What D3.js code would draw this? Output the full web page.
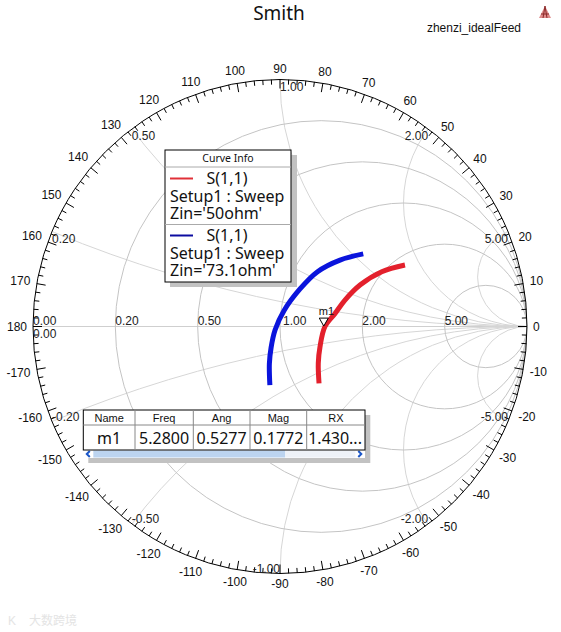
<!DOCTYPE html>
<html>
<head>
<meta charset="utf-8">
<script src="https://cdn.jsdelivr.net/npm/d3@7"></script>
<style>
  body { margin: 0; background: #fff; }
  text { font-family: "Liberation Sans", Arial, sans-serif; }
  .ui { font-family: "Noto Sans", "Open Sans", sans-serif; }
</style>
</head>
<body>
<div id="chart"></div>
<script>
// Данные графика
var resistanceCircles = [0.2, 0.5, 1, 2, 5];
var reactanceArcs = [0.2, 0.5, 1, 2, 5, -0.2, -0.5, -1, -2, -5];
var resistanceLabels = ["0.00", "0.20", "0.50", "1.00", "2.00", "5.00"];
var reactanceValues = [0, 0.2, 0.5, 1, 2, 5, -0.2, -0.5, -1, -2, -5];
var reactanceLabels = ["0.00", "0.20", "0.50", "1.00", "2.00", "5.00",
  "-0.20", "-0.50", "-1.00", "-2.00", "-5.00"];
var angleTicks = [0, 10, 20, 30, 40, 50, 60, 70, 80, 90, 100, 110, 120, 130, 140, 150, 160, 170, 180,
  -170, -160, -150, -140, -130, -120, -110, -100, -90, -80, -70, -60, -50, -40, -30, -20, -10];

// S(1,1) Zin='50ohm' (re, im of reflection coefficient)
var s11_50 = [[0.158, -0.230], [0.155, -0.148], [0.162, -0.082], [0.182, 0.0], [0.223, 0.053],
  [0.263, 0.107], [0.324, 0.168], [0.412, 0.222], [0.506, 0.249]];
// S(1,1) Zin='73.1ohm'
var s11_73 = [[-0.041, -0.237], [-0.043, -0.150], [-0.036, -0.085], [-0.020, -0.014], [0.016, 0.064],
  [0.081, 0.152], [0.152, 0.222], [0.243, 0.269], [0.337, 0.294]];

var seriesNames = ["S(1,1)", "S(1,1)"];
var seriesSetup = ["Setup1 : Sweep", "Setup1 : Sweep"];
var seriesZin = ["Zin='50ohm'", "Zin='73.1ohm'"];
var seriesColors = ["#e3202c", "#0a14dc"];
var legendColors = ["#e03038", "#0c0ca0"];

// Маркер
var tableHeaders = ["Name", "Freq", "Ang", "Mag", "RX"];
var markerName = "m1";
var markerFreq = 5.28;
var markerAng = 0.5277;
var markerMag = 0.1772;

var W = 561, H = 632;
var cx = 280, cy = 326.5, R = 247;

var x = d3.scaleLinear().domain([-1, 1]).range([cx - R, cx + R]);
var y = d3.scaleLinear().domain([-1, 1]).range([cy + R, cy - R]);

var svg = d3.select("#chart").append("svg").attr("width", W).attr("height", H);

svg.append("defs").append("clipPath").attr("id", "unit")
  .append("circle").attr("cx", x(0)).attr("cy", y(0)).attr("r", x(1) - x(0));

// Title
svg.append("text").attr("class", "ui").attr("x", 279).attr("y", 20)
  .attr("text-anchor", "middle").style("font-size", "19px").style("fill", "#111").text("Smith");
svg.append("text").attr("x", 521).attr("y", 32).attr("text-anchor", "end")
  .style("font-size", "12px").style("fill", "#111").text("zhenzi_idealFeed");

// HFSS icon
var icon = svg.append("g").attr("transform", "translate(545,12)");
icon.append("path").attr("d", "M0,-6 L6,6 L-6,6 Z").attr("fill", "#e08a8a");
icon.append("path").attr("d", "M0,-6 L-2,6 M0,-6 L2,6 M-4,2 L4,2").attr("stroke", "#8a2a2a").attr("stroke-width", 1).attr("fill", "none");

// Grid
var grid = svg.append("g").attr("clip-path", "url(#unit)");

grid.append("line").attr("x1", x(-1)).attr("x2", x(1)).attr("y1", y(0)).attr("y2", y(0))
  .style("stroke", "#cfcfcf");

grid.selectAll(".xarc").data(reactanceArcs).enter().append("circle")
  .attr("class", "xarc")
  .attr("cx", x(1))
  .attr("cy", function (d) { return y(1 / d); })
  .attr("r", function (d) { return x(1 / Math.abs(d)) - x(0); })
  .attr("fill", "none").style("stroke", "#d6d6d6");

grid.selectAll(".rcirc").data(resistanceCircles).enter().append("circle")
  .attr("class", "rcirc")
  .attr("cx", function (d) { return x(d / (d + 1)); })
  .attr("cy", y(0))
  .attr("r", function (d) { return x(1 / (d + 1)) - x(0); })
  .attr("fill", "none").style("stroke", "#c4c4c4");

// Outer circle and ticks
svg.append("circle").attr("cx", x(0)).attr("cy", y(0)).attr("r", R)
  .attr("fill", "none").style("stroke", "#000");

var fine = d3.range(-178, 181, 2);
svg.selectAll(".tick").data(fine).enter().append("line")
  .attr("class", "tick")
  .attr("x1", function (d) { return x(Math.cos(d * Math.PI / 180)); })
  .attr("y1", function (d) { return y(Math.sin(d * Math.PI / 180)); })
  .attr("x2", function (d) { var k = 1 - (d % 10 == 0 ? 9 : 5) / R; return x(k * Math.cos(d * Math.PI / 180)); })
  .attr("y2", function (d) { var k = 1 - (d % 10 == 0 ? 9 : 5) / R; return y(k * Math.sin(d * Math.PI / 180)); })
  .style("stroke", "#000");

// Angle labels outside the circle
svg.selectAll(".ang").data(angleTicks).enter().append("text")
  .attr("class", "ang")
  .style("font-size", "12px").style("fill", "#111")
  .attr("text-anchor", "middle").attr("dy", "0.35em")
  .text(function (d) { return d; })
  .each(function (d) {
    var w = this.getComputedTextLength();
    var a = d * Math.PI / 180;
    var rr = 1 + (6 + Math.abs(Math.cos(a)) * w / 2 + Math.abs(Math.sin(a)) * 4.5) / R;
    d3.select(this).attr("x", x(rr * Math.cos(a))).attr("y", y(rr * Math.sin(a)));
  });

// Resistance labels on the real axis
var rVals = [0].concat(resistanceCircles);
svg.selectAll(".rlab").data(rVals).enter().append("text")
  .attr("class", "rlab").style("font-size", "12px").style("fill", "#222")
  .attr("x", function (d) { return x((d - 1) / (d + 1)) + (d == 1 ? 3 : 0); })
  .attr("y", y(0) - 1.5)
  .text(function (d, i) { return resistanceLabels[i]; });

// Reactance labels at the rim
svg.selectAll(".xlab").data(reactanceValues).enter().append("text")
  .attr("class", "xlab").style("font-size", "12px").style("fill", "#222")
  .attr("x", function (d) { return x((d * d - 1) / (d * d + 1)); })
  .attr("y", function (d) { return y(2 * d / (d * d + 1)) + (d >= 0 ? 11 : -1); })
  .attr("text-anchor", function (d) {
    if (d >= 0) return d <= 1 ? "start" : "end";
    return d > -1 ? "start" : "end";
  })
  .text(function (d, i) { return reactanceLabels[i]; });

// Curves
var line = d3.line()
  .x(function (d) { return x(d[0]); })
  .y(function (d) { return y(d[1]); })
  .curve(d3.curveCatmullRom);

svg.selectAll(".trace").data([s11_50, s11_73]).enter().append("path")
  .attr("class", "trace")
  .attr("d", line)
  .attr("fill", "none")
  .style("stroke", function (d, i) { return seriesColors[i]; })
  .style("stroke-width", "5px");

// Marker m1
var mRe = markerMag * Math.cos(markerAng * Math.PI / 180);
var mIm = markerMag * Math.sin(markerAng * Math.PI / 180);
var mx = x(mRe), my = y(mIm);
svg.append("path")
  .attr("d", "M" + mx + "," + my + " l-4.5,-8 l9,0 Z")
  .attr("fill", "#fff").style("stroke", "#000");
svg.append("text").attr("x", mx - 5).attr("y", my - 11)
  .style("font-size", "11px").style("fill", "#111").text(markerName);

// Legend: Curve Info
var lg = svg.append("g").attr("transform", "translate(165,150)");
lg.append("rect").attr("x", 5).attr("y", 5).attr("width", 127).attr("height", 132).attr("fill", "#c2c2c2");
lg.append("rect").attr("x", 0).attr("y", 0).attr("width", 126).attr("height", 132)
  .attr("fill", "#fff").style("stroke", "#000");
lg.append("text").attr("class", "ui").attr("x", 63).attr("y", 12).attr("text-anchor", "middle")
  .style("font-size", "10.5px").style("fill", "#111").text("Curve Info");
lg.append("line").attr("x1", 0).attr("x2", 126).attr("y1", 17).attr("y2", 17).style("stroke", "#aaa");
lg.append("line").attr("x1", 0).attr("x2", 126).attr("y1", 74.5).attr("y2", 74.5).style("stroke", "#aaa");

var entries = lg.selectAll(".entry").data(seriesNames).enter().append("g")
  .attr("class", "entry")
  .attr("transform", function (d, i) { return "translate(0," + (i * 57) + ")"; });
entries.append("line").attr("x1", 5).attr("x2", 28).attr("y1", 28.5).attr("y2", 28.5)
  .style("stroke", function (d, i) { return legendColors[i]; }).style("stroke-width", "2px");
entries.append("text").attr("class", "ui").attr("x", 41.5).attr("y", 33.5)
  .style("font-size", "16px").style("fill", "#111").text(function (d) { return d; });
entries.append("text").attr("class", "ui").attr("x", 5).attr("y", 52)
  .style("font-size", "16px").style("fill", "#111").text(function (d, i) { return seriesSetup[i]; });
entries.append("text").attr("class", "ui").attr("x", 5).attr("y", 69)
  .style("font-size", "16px").style("fill", "#111").text(function (d, i) { return seriesZin[i]; });

// Marker table
var colX = [0, 51.7, 110, 166.7, 223.4, 281.7];
var tb = svg.append("g").attr("transform", "translate(83.3,410)");
tb.append("rect").attr("x", 5).attr("y", 5).attr("width", 282).attr("height", 48).attr("fill", "#c2c2c2");
tb.append("rect").attr("x", 0).attr("y", 0).attr("width", 281.7).attr("height", 48).attr("fill", "#fff");
// scrollbar
tb.append("rect").attr("x", 10).attr("y", 40.5).attr("width", 192).attr("height", 7).attr("fill", "#bcd4f0");
tb.append("rect").attr("x", 202).attr("y", 40.5).attr("width", 70).attr("height", 7).attr("fill", "#eef2f8");
tb.append("path").attr("d", "M6.5,41 l-3,3 l3,3").attr("fill", "none").style("stroke", "#1a56c8").style("stroke-width", "2px");
tb.append("path").attr("d", "M275,41 l3,3 l-3,3").attr("fill", "none").style("stroke", "#1a56c8").style("stroke-width", "2px");

tb.append("rect").attr("x", 0).attr("y", 0).attr("width", 281.7).attr("height", 40)
  .attr("fill", "none").style("stroke", "#000");
tb.append("line").attr("x1", 0).attr("x2", 281.7).attr("y1", 15).attr("y2", 15).style("stroke", "#888");
tb.selectAll(".col").data(colX.slice(1, 5)).enter().append("line")
  .attr("x1", function (d) { return d; }).attr("x2", function (d) { return d; })
  .attr("y1", 0).attr("y2", 40).style("stroke", "#888");

tb.selectAll(".hdr").data(tableHeaders).enter().append("text")
  .attr("x", function (d, i) { return (colX[i] + colX[i + 1]) / 2; })
  .attr("y", 11.5).attr("text-anchor", "middle")
  .style("font-size", "11px").style("fill", "#111").text(function (d) { return d; });

var rx = (1 - markerMag * markerMag) / (1 - 2 * mRe + markerMag * markerMag);
var rowVals = [markerName, markerFreq.toFixed(4), markerAng.toFixed(4), markerMag.toFixed(4)];
tb.selectAll(".val").data(rowVals).enter().append("text")
  .attr("class", "ui")
  .attr("x", function (d, i) { return (colX[i] + colX[i + 1]) / 2; })
  .attr("y", 33.5).attr("text-anchor", "middle")
  .style("font-size", "16px").style("fill", "#111").text(function (d) { return d; });
tb.append("text").attr("class", "ui").attr("x", colX[4] + 1.5).attr("y", 33.5)
  .style("font-size", "16px").style("fill", "#111")
  .text((Math.floor(rx * 1000) / 1000).toFixed(3) + "...");

// Watermark
svg.append("text").attr("x", 8).attr("y", 625).style("font-size", "12px").style("fill", "#e4e4e4")
  .text("K");
svg.append("text").attr("x", 29).attr("y", 625)
  .style("font-family", "'Noto Sans CJK SC', sans-serif").style("font-size", "12px").style("fill", "#e4e4e4")
  .text("大数跨境");
</script>
</body>
</html>
